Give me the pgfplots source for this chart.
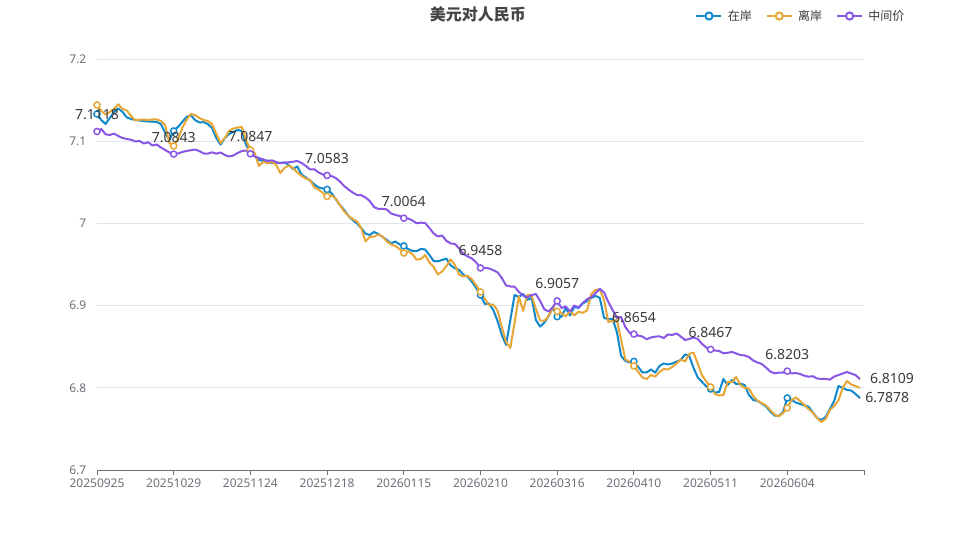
\documentclass[border=0pt]{standalone}
\usepackage{fontspec}
\setmainfont{Noto Sans}
\newfontfamily\cjk{Noto Sans CJK SC}
\usepackage{pgfplots}
\pgfplotsset{compat=1.18}
\usepackage{pgfplotstable}
\definecolor{cblue}{HTML}{1088CC}
\definecolor{corange}{HTML}{E6A737}
\definecolor{cpurple}{HTML}{8957E5}
\definecolor{tickgray}{HTML}{6E7079}
\definecolor{gridgray}{HTML}{E0E6F1}
\definecolor{labgray}{HTML}{3A3A3A}
\definecolor{titlegray}{HTML}{464646}
\pgfplotstableread{
i on off mid
0 7.1331 7.1441 7.1118
1 7.1258 7.1368 7.1149
2 7.1209 7.1325 7.1084
3 7.1283 7.1356 7.1076
4 7.1356 7.1393 7.1092
5 7.1399 7.1449 7.1063
6 7.1356 7.1393 7.1039
7 7.1289 7.1374 7.1027
8 7.1270 7.1307 7.1018
9 7.1258 7.1252 7.0997
10 7.1252 7.1264 7.1003
11 7.1246 7.1262 7.0972
12 7.1240 7.1258 7.0987
13 7.1238 7.1264 7.0948
14 7.1234 7.1265 7.0960
15 7.1209 7.1246 7.0924
16 7.1101 7.1197 7.0893
17 7.1015 7.0978 7.0863
18 7.1125 7.0942 7.0843
19 7.1173 7.1027 7.0851
20 7.1234 7.1161 7.0869
21 7.1295 7.1258 7.0881
22 7.1319 7.1331 7.0890
23 7.1258 7.1319 7.0899
24 7.1228 7.1283 7.0881
25 7.1232 7.1258 7.0851
26 7.1209 7.1246 7.0848
27 7.1161 7.1209 7.0865
28 7.1039 7.1088 7.0848
29 7.0960 7.0978 7.0863
30 7.1037 7.1039 7.0832
31 7.1088 7.1125 7.0814
32 7.1112 7.1155 7.0826
33 7.1137 7.1167 7.0857
34 7.1125 7.1173 7.0881
35 7.0954 7.1015 7.0887
36 7.0869 7.0893 7.0847
37 7.0820 7.0857 7.0814
38 7.0772 7.0699 7.0796
39 7.0760 7.0751 7.0780
40 7.0766 7.0732 7.0756
41 7.0732 7.0748 7.0768
42 7.0738 7.0717 7.0748
43 7.0736 7.0614 7.0732
44 7.0742 7.0675 7.0739
45 7.0711 7.0705 7.0744
46 7.0662 7.0673 7.0750
47 7.0693 7.0620 7.0760
48 7.0595 7.0577 7.0736
49 7.0559 7.0546 7.0699
50 7.0522 7.0528 7.0656
51 7.0474 7.0437 7.0659
52 7.0437 7.0413 7.0620
53 7.0425 7.0370 7.0595
54 7.0413 7.0328 7.0583
55 7.0370 7.0340 7.0577
56 7.0297 7.0303 7.0553
57 7.0224 7.0224 7.0510
58 7.0164 7.0146 7.0456
59 7.0091 7.0091 7.0413
60 7.0042 7.0054 7.0376
61 6.9999 7.0024 7.0346
62 6.9945 6.9945 7.0343
63 6.9877 6.9781 7.0316
64 6.9859 6.9835 7.0273
65 6.9896 6.9839 7.0200
66 6.9871 6.9865 7.0176
67 6.9835 6.9841 7.0178
68 6.9799 6.9781 7.0170
69 6.9756 6.9744 7.0121
70 6.9781 6.9726 7.0103
71 6.9744 6.9689 7.0091
72 6.9726 6.9640 7.0064
73 6.9689 6.9659 7.0060
74 6.9665 6.9628 7.0036
75 6.9663 6.9559 7.0002
76 6.9689 6.9567 7.0009
77 6.9683 6.9616 7.0005
78 6.9616 6.9525 6.9945
79 6.9543 6.9470 6.9878
80 6.9539 6.9379 6.9841
81 6.9555 6.9415 6.9853
82 6.9573 6.9482 6.9787
83 6.9488 6.9561 6.9756
84 6.9454 6.9494 6.9750
85 6.9434 6.9377 6.9695
86 6.9373 6.9355 6.9628
87 6.9352 6.9363 6.9598
88 6.9288 6.9318 6.9573
89 6.9215 6.9245 6.9525
90 6.9130 6.9166 6.9458
91 6.9020 6.9087 6.9460
92 6.9026 6.9002 6.9452
93 6.8947 6.9014 6.9430
94 6.8813 6.8941 6.9406
95 6.8643 6.8740 6.9336
96 6.8521 6.8558 6.9245
97 6.8825 6.8485 6.9233
98 6.9130 6.8795 6.9230
99 6.9105 6.9111 6.9166
100 6.9142 6.8935 6.9123
101 6.9069 6.9130 6.9099
102 6.9093 6.9123 6.9129
103 6.8825 6.8959 6.9141
104 6.8744 6.8819 6.9056
105 6.8795 6.8816 6.8953
106 6.8874 6.8874 6.8929
107 6.8977 6.8983 6.8983
108 6.8866 6.8929 6.9057
109 6.8864 6.8910 6.8971
110 6.8971 6.8868 6.8989
111 6.8880 6.8935 6.8929
112 6.8983 6.8880 6.9001
113 6.8971 6.8926 6.8977
114 6.9026 6.8912 6.9032
115 6.9057 6.8941 6.9077
116 6.9093 6.9142 6.9105
117 6.9118 6.9190 6.9150
118 6.9093 6.9196 6.9206
119 6.8850 6.9069 6.9160
120 6.8837 6.8801 6.9044
121 6.8837 6.8813 6.8947
122 6.8679 6.8825 6.8850
123 6.8387 6.8582 6.8862
124 6.8327 6.8345 6.8740
125 6.8308 6.8318 6.8667
126 6.8321 6.8266 6.8654
127 6.8254 6.8193 6.8636
128 6.8187 6.8125 6.8624
129 6.8187 6.8107 6.8591
130 6.8223 6.8156 6.8612
131 6.8185 6.8135 6.8622
132 6.8266 6.8193 6.8627
133 6.8296 6.8229 6.8606
134 6.8284 6.8223 6.8649
135 6.8296 6.8254 6.8643
136 6.8318 6.8296 6.8661
137 6.8339 6.8345 6.8624
138 6.8405 6.8321 6.8582
139 6.8387 6.8412 6.8594
140 6.8241 6.8430 6.8612
141 6.8125 6.8290 6.8594
142 6.8071 6.8150 6.8533
143 6.8016 6.8077 6.8490
144 6.7986 6.8010 6.8467
145 6.7943 6.7925 6.8454
146 6.7949 6.7907 6.8448
147 6.8107 6.7913 6.8420
148 6.8034 6.8071 6.8426
149 6.8095 6.8068 6.8436
150 6.8046 6.8132 6.8418
151 6.8052 6.8034 6.8399
152 6.8034 6.7998 6.8393
153 6.7913 6.7992 6.8375
154 6.7852 6.7900 6.8332
155 6.7840 6.7842 6.8308
156 6.7809 6.7815 6.8290
157 6.7773 6.7785 6.8247
158 6.7712 6.7730 6.8198
159 6.7663 6.7676 6.8176
160 6.7657 6.7651 6.8184
161 6.7706 6.7694 6.8186
162 6.7876 6.7755 6.8203
163 6.7852 6.7852 6.8174
164 6.7821 6.7882 6.8180
165 6.7803 6.7840 6.8168
166 6.7785 6.7791 6.8147
167 6.7770 6.7742 6.8135
168 6.7700 6.7694 6.8141
169 6.7633 6.7633 6.8113
170 6.7609 6.7584 6.8108
171 6.7645 6.7621 6.8107
172 6.7742 6.7730 6.8100
173 6.7840 6.7779 6.8137
174 6.8022 6.7846 6.8155
175 6.7998 6.7998 6.8174
176 6.7974 6.8083 6.8192
177 6.7967 6.8040 6.8174
178 6.7925 6.8022 6.8155
179 6.7878 6.7998 6.8109
}\fxdata
\begin{document}
\begin{tikzpicture}
\path[use as bounding box, fill=white] (0,0) rectangle (720pt,405pt);
\begin{axis}[
  at={(72.75pt,52.5pt)}, anchor=south west,
  scale only axis, width=575.25pt, height=308.25pt,
  clip=false,
  xmin=0, xmax=180, ymin=6.7, ymax=7.2,
  /pgf/number format/assume math mode=true,
  axis x line*=bottom, axis y line*=left,
  x axis line style={draw=tickgray, line width=0.75pt},
  y axis line style={draw=none},
  xtick={0,18,...,180},
  xticklabels={20250925,20251029,20251124,20251218,20260115,20260210,20260316,20260410,20260511,20260604,{}},
  ytick={6.7,6.8,6.9,7.0,7.1,7.2},
  yticklabels={6.7,6.8,6.9,7,7.1,7.2},
  xtick align=outside, major tick length=3.75pt,
  xtick style={draw=tickgray, line width=0.75pt},
  ytick style={draw=none},
  ymajorgrids, major grid style={draw=gridgray, line width=0.75pt},
  tick label style={font=\fontsize{9}{11}\selectfont, text=tickgray},
  yticklabel style={xshift=-4.5pt},
  xticklabel style={yshift=1pt},
  every axis title shift=0pt,
  title={\cjk\bfseries 美元对人民币},
  title style={at={(0.4967,1.1095)}, anchor=center, yshift=0pt, font=\fontsize{12}{14}\selectfont, text=titlegray},
  legend columns=3,
  legend style={at={(1.0557,1.1046)}, anchor=east, draw=none, fill=none, inner sep=0pt,
    font=\cjk\fontsize{9}{11}\selectfont, text=labgray,
    nodes={inner sep=1.5pt},
    /tikz/every odd column/.append style={column sep=2.5pt},
    /tikz/every even column/.append style={column sep=9pt}},
  legend image code/.code={
    \draw[#1, line width=1.5pt] (0pt,0pt) -- (18.75pt,0pt);
    \draw[#1, line width=1.5pt, fill=white] (9.375pt,0pt) circle (2.7pt);
  },
]
\addplot[cblue, line width=1.5pt, line join=round, mark=none] table[x=i,y=on]{\fxdata};
\addlegendentry{在岸}
\addplot[corange, line width=1.5pt, line join=round, mark=none] table[x=i,y=off]{\fxdata};
\addlegendentry{离岸}
\addplot[cpurple, line width=1.5pt, line join=round, mark=none] table[x=i,y=mid]{\fxdata};
\addlegendentry{中间价}
\addplot[forget plot, only marks, mark=*, mark size=2.3pt, mark options={fill=white, draw=cblue, line width=1.1pt}, each nth point=18, filter discard warning=false] table[x=i,y=on]{\fxdata};
\addplot[forget plot, only marks, mark=*, mark size=2.3pt, mark options={fill=white, draw=corange, line width=1.1pt}, each nth point=18, filter discard warning=false] table[x=i,y=off]{\fxdata};
\addplot[forget plot, only marks, mark=*, mark size=2.3pt, mark options={fill=white, draw=cpurple, line width=1.1pt}, each nth point=18, filter discard warning=false,
  point meta=y,
  nodes near coords={\pgfmathprintnumber[fixed,precision=4,zerofill]{\pgfplotspointmeta}},
  nodes near coords style={font=\fontsize{10.5}{12}\selectfont, text=labgray, anchor=center, yshift=12.75pt, inner sep=0pt}] table[x=i,y=mid]{\fxdata};
\addplot[forget plot, only marks, mark=*, mark size=0.1pt, mark options={draw=none, fill=none},
  skip coords between index={0}{179}, filter discard warning=false,
  point meta=y,
  nodes near coords={\pgfmathprintnumber[fixed,precision=4,zerofill]{\pgfplotspointmeta}},
  nodes near coords style={font=\fontsize{10.5}{12}\selectfont, text=labgray, anchor=west, xshift=7.5pt, inner sep=0pt}] table[x=i,y=mid]{\fxdata};
\addplot[forget plot, only marks, mark=*, mark size=0.1pt, mark options={draw=none, fill=none},
  skip coords between index={0}{179}, filter discard warning=false,
  point meta=y,
  nodes near coords={\pgfmathprintnumber[fixed,precision=4,zerofill]{\pgfplotspointmeta}},
  nodes near coords style={font=\fontsize{10.5}{12}\selectfont, text=labgray, anchor=west, xshift=4pt, inner sep=0pt}] table[x=i,y=on]{\fxdata};
\end{axis}
\end{tikzpicture}
\end{document}
